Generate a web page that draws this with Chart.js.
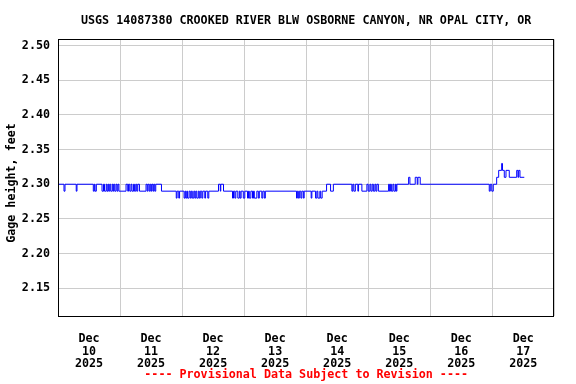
<!DOCTYPE html>
<html>
<head>
<meta charset="utf-8">
<script src="https://cdn.jsdelivr.net/npm/chart.js@4/dist/chart.umd.min.js"></script>
<style>
html,body{margin:0;padding:0;background:#fff;}
#wrap{width:576px;height:384px;}
</style>
</head>
<body>
<div id="wrap"><canvas id="c" width="576" height="384"></canvas></div>
<script>
const titleText = "USGS 14087380 CROOKED RIVER BLW OSBORNE CANYON, NR OPAL CITY, OR";
const yAxisTitle = "Gage height, feet";
const footerText = "---- Provisional Data Subject to Revision ----";
const monthLabel = "Dec";
const yearLabel = "2025";
const dayLabels = ["10", "11", "12", "13", "14", "15", "16", "17"];
const yTicks = [2.15, 2.20, 2.25, 2.30, 2.35, 2.40, 2.45, 2.50];

// hours since Dec 10 2025 00:00 at which the gage height changes (step series)
const hours = [
  0, 2.32, 2.71, 7.05, 7.35, 13.66, 14.05, 14.32, 14.83,
  17.03, 17.61, 18.00, 18.66, 18.97, 19.36, 19.63, 20.01, 20.40, 20.98, 21.29, 21.56, 21.95, 22.45, 22.84, 23.19, 23.57,
  26.32, 26.98, 27.29, 27.76, 28.26, 28.61, 29.23, 29.57, 30.08, 30.46, 30.85, 31.51,
  34.06, 34.53, 34.84, 35.30, 35.69, 36.08, 36.35, 36.77, 37.05, 37.43, 37.82, 40.03,
  45.75, 46.06, 46.72, 47.03, 48.77, 49.16, 49.43, 49.82, 50.13, 50.71, 51.17, 51.56, 51.95, 52.53,
  52.92, 53.30, 53.69, 54.27, 54.66, 55.05, 55.63, 56.01, 56.79, 57.10, 57.95, 58.34,
  62.09, 62.79, 62.98, 64.03,
  67.51, 67.90, 68.40, 68.79, 69.56, 70.14, 70.45, 70.84, 71.69, 72.27, 73.32, 73.71, 74.01, 74.60,
  75.25, 75.64, 75.95, 76.92, 77.50, 77.89, 78.85, 79.24, 79.82, 80.21,
  92.28, 92.59, 92.98, 93.37, 93.95, 94.34, 94.92, 95.23,
  97.94, 98.21, 99.64, 100.14, 100.53, 101.30, 101.62, 102.19,
  103.90, 105.45, 106.53,
  113.69, 114.07, 114.46, 115.04, 116.01, 116.28, 117.56, 119.50, 120.00, 120.66, 121.05, 121.55,
  122.01, 122.59, 122.98, 123.37, 123.95,
  127.90, 128.21, 128.60, 128.98, 129.56, 129.95, 130.53, 130.84, 131.11,
  135.64, 136.14, 138.20, 138.97, 139.24, 140.13,
  166.84, 167.23, 167.81, 168.39, 169.70, 170.48, 171.64, 171.95, 172.65, 173.31, 174.58,
  177.45, 177.95, 178.22, 178.72, 180.39
];
const gage = [
  2.30, 2.29, 2.30, 2.29, 2.30, 2.29, 2.30, 2.29, 2.30,
  2.29, 2.30, 2.29, 2.30, 2.29, 2.30, 2.29, 2.30, 2.29, 2.30, 2.29, 2.30, 2.29, 2.30, 2.29, 2.30, 2.29,
  2.30, 2.29, 2.30, 2.29, 2.30, 2.29, 2.30, 2.29, 2.30, 2.29, 2.30, 2.29,
  2.30, 2.29, 2.30, 2.29, 2.30, 2.29, 2.30, 2.29, 2.30, 2.29, 2.30, 2.29,
  2.28, 2.29, 2.28, 2.29, 2.28, 2.29, 2.28, 2.29, 2.28, 2.29, 2.28, 2.29, 2.28, 2.29,
  2.28, 2.29, 2.28, 2.29, 2.28, 2.29, 2.28, 2.29, 2.28, 2.29, 2.28, 2.29,
  2.30, 2.29, 2.30, 2.29,
  2.28, 2.29, 2.28, 2.29, 2.28, 2.29, 2.28, 2.29, 2.28, 2.29, 2.28, 2.29, 2.28, 2.29,
  2.28, 2.29, 2.28, 2.29, 2.28, 2.29, 2.28, 2.29, 2.28, 2.29,
  2.28, 2.29, 2.28, 2.29, 2.28, 2.29, 2.28, 2.29,
  2.28, 2.29, 2.28, 2.29, 2.28, 2.29, 2.28, 2.29,
  2.30, 2.29, 2.30,
  2.29, 2.30, 2.29, 2.30, 2.29, 2.30, 2.29, 2.30, 2.29, 2.30, 2.29, 2.30,
  2.29, 2.30, 2.29, 2.30, 2.29,
  2.30, 2.29, 2.30, 2.29, 2.30, 2.29, 2.30, 2.29, 2.30,
  2.31, 2.30, 2.31, 2.30, 2.31, 2.30,
  2.29, 2.30, 2.29, 2.30, 2.31, 2.32, 2.33, 2.32, 2.31, 2.32, 2.31,
  2.32, 2.31, 2.32, 2.31, 2.31
];

const FONT_FAMILY = '"DejaVu Sans Mono", "Liberation Mono", monospace';
const FONT_SIZE = 11.7;

const points = hours.map((h, i) => ({ x: h, y: gage[i] }));

// x tick positions: midnight grid lines and noon day labels
const xTickValues = [];
dayLabels.forEach((d, i) => { xTickValues.push(i * 24); xTickValues.push(i * 24 + 12); });
xTickValues.push(dayLabels.length * 24);

const framePlugin = {
  id: 'frame',
  afterDatasetsDraw(chart) {
    const { ctx, chartArea: a } = chart;
    ctx.save();
    ctx.strokeStyle = '#000';
    ctx.lineWidth = 1;
    ctx.strokeRect(Math.round(a.left) + 0.5, Math.round(a.top) + 0.5,
                   Math.round(a.right - a.left) - 1, Math.round(a.bottom - a.top));
    ctx.restore();
  },
  afterDraw(chart) {
    const { ctx } = chart;
    ctx.save();
    ctx.font = 'bold ' + FONT_SIZE + 'px ' + FONT_FAMILY;
    ctx.fillStyle = '#000';
    ctx.textAlign = 'center';
    ctx.textBaseline = 'middle';
    ctx.translate(11.5, 183);
    ctx.rotate(-Math.PI / 2);
    ctx.fillText(yAxisTitle, 0, 0);
    ctx.restore();
  }
};

new Chart(document.getElementById('c'), {
  type: 'line',
  data: {
    datasets: [{
      data: points,
      borderColor: '#0000ff',
      borderWidth: 1,
      pointRadius: 0,
      fill: false,
      stepped: true,
      tension: 0
    }]
  },
  plugins: [framePlugin],
  options: {
    responsive: false,
    animation: false,
    devicePixelRatio: 1,
    layout: { padding: { left: 0, right: 21.7, top: 0, bottom: 0 } },
    plugins: {
      legend: { display: false },
      tooltip: { enabled: false },
      title: {
        display: true,
        text: titleText,
        fullSize: false,
        color: '#000',
        font: { family: FONT_FAMILY, size: FONT_SIZE, weight: 'bold', lineHeight: 1.2 },
        padding: { top: 13.5, bottom: 11.8 }
      },
      subtitle: {
        display: true,
        position: 'bottom',
        text: footerText,
        fullSize: false,
        color: '#ff0000',
        font: { family: FONT_FAMILY, size: FONT_SIZE, weight: 'bold', lineHeight: 1.2 },
        padding: { top: 0, bottom: 2 }
      }
    },
    scales: {
      x: {
        type: 'linear',
        min: 0,
        max: dayLabels.length * 24,
        afterBuildTicks: (s) => { s.ticks = xTickValues.map(v => ({ value: v })); },
        afterFit: (s) => { s.height = 52; },
        border: { display: false },
        grid: {
          drawTicks: false,
          color: (c) => (c.tick && c.tick.value % 24 === 0) ? '#cccccc' : 'rgba(0,0,0,0)',
          lineWidth: 1
        },
        ticks: {
          autoSkip: false,
          maxRotation: 0,
          minRotation: 0,
          padding: 17,
          color: '#000',
          font: { family: FONT_FAMILY, size: FONT_SIZE, weight: 'bold', lineHeight: 1.07 },
          callback: (v) => (v % 24 === 12) ? [monthLabel, dayLabels[(v - 12) / 24], yearLabel] : ''
        }
      },
      y: {
        type: 'linear',
        min: 2.11,
        max: 2.509,
        afterBuildTicks: (s) => { s.ticks = yTicks.map(v => ({ value: v })); },
        afterFit: (s) => { s.width = 58; },
        border: { display: false },
        grid: { drawTicks: false, color: '#cccccc', lineWidth: 1 },
        ticks: {
          padding: 8,
          color: '#000',
          font: { family: FONT_FAMILY, size: FONT_SIZE, weight: 'bold' },
          callback: (v) => Number(v).toFixed(2)
        }
      }
    }
  }
});
</script>
</body>
</html>
